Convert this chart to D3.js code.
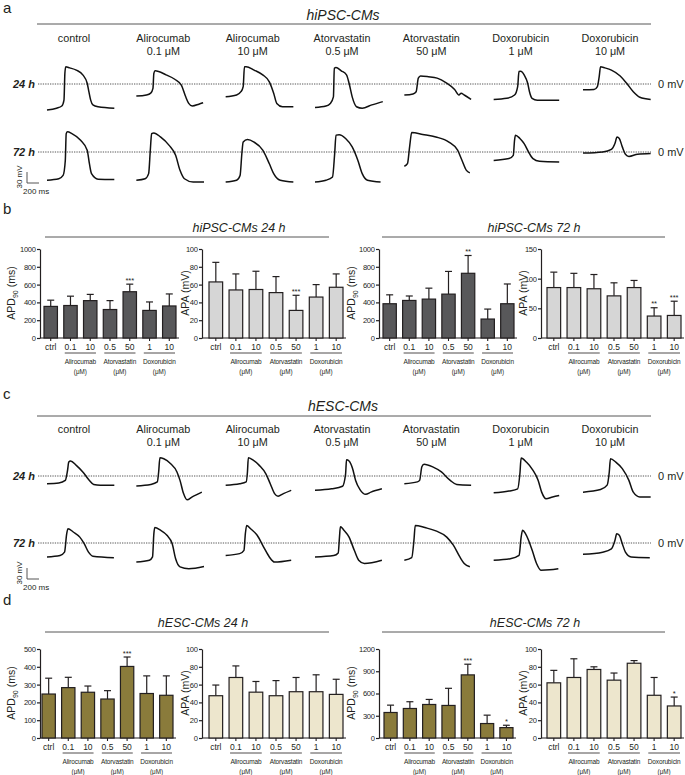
<!DOCTYPE html>
<html><head><meta charset="utf-8">
<script src="https://cdn.jsdelivr.net/npm/d3@7/dist/d3.min.js"></script>
<style>body{margin:0;background:#fff}svg{display:block}</style>
</head><body><svg id="c" width="685" height="775"></svg>
<script>
// ---------------- DATA ----------------
const columnHeaders = [["control"],["Alirocumab","0.1 μM"],["Alirocumab","10 μM"],["Atorvastatin","0.5 μM"],["Atorvastatin","50 μM"],["Doxorubicin","1 μM"],["Doxorubicin","10 μM"]];
const categories = ["ctrl","0.1","10","0.5","50","1","10"];
const drugGroups = [{name:"Alirocumab",from:1,to:2},{name:"Atorvastatin",from:3,to:4},{name:"Doxorubicin",from:5,to:6}];

// action-potential traces: [time ms, membrane potential mV]
const ipsc24 = [
 [[0,-71],[160,-66],[247,-60],[283,-44],[298,29],[313,47],[378,44],[488,38],[597,25],[670,2],[698,-21],[728,-44],[765,-57],[852,-62],[1122,-66]],
 [[0,-33],[168,-30],[240,-25],[277,-12],[292,29],[313,36],[495,25],[640,13],[750,-3],[823,-35],[873,-53],[932,-60],[1042,-55],[1113,-51]],
 [[0,-35],[182,-30],[255,-21],[292,-7],[313,47],[342,47],[473,38],[618,25],[728,6],[800,-25],[852,-53],[947,-62],[1128,-62]],
 [[0,-64],[183,-60],[255,-53],[307,-35],[322,43],[350,45],[438,36],[525,25],[568,2],[620,-35],[692,-62],[787,-66],[947,-57],[1130,-48]],
 [[0,-30],[145,-27],[197,-21],[233,16],[270,22],[400,20],[547,16],[692,4],[838,-15],[910,-30],[947,-25],[998,-30],[1113,-42]],
 [[0,-42],[218,-39],[348,-30],[400,-7],[422,34],[450,35],[508,25],[567,2],[597,-21],[640,-39],[728,-44],[1092,-44]],
 [[0,-16],[183,-15],[240,-7],[270,20],[292,47],[365,44],[473,38],[620,22],[728,2],[838,-21],[947,-36],[1128,-42]]
];
const ipsc72 = [
 [[0,-77],[197,-73],[268,-64],[305,-23],[320,50],[342,55],[415,50],[560,32],[670,5],[707,-32],[742,-59],[852,-74],[1122,-75]],
 [[0,-77],[147,-73],[205,-59],[233,5],[255,50],[292,52],[402,41],[547,18],[655,-9],[728,-50],[802,-73],[947,-82],[1128,-82]],
 [[0,-82],[182,-77],[240,-64],[270,-4],[292,27],[363,34],[473,27],[618,5],[728,-32],[800,-59],[910,-77],[1128,-82]],
 [[0,-82],[183,-77],[292,-68],[328,-4],[350,46],[402,47],[510,37],[620,14],[715,-23],[787,-59],[875,-77],[1093,-82]],
 [[0,-39],[52,-32],[88,14],[123,53],[307,48],[525,41],[743,27],[888,5],[962,-23],[1035,-50],[1092,-57]],
 [[0,-23],[255,-18],[327,-9],[348,32],[363,46],[437,37],[508,23],[582,0],[655,-18],[763,-25],[1092,-27]],
 [[0,-3],[328,0],[473,7],[532,23],[568,41],[605,37],[655,14],[707,-6],[765,-12],[910,-6],[1128,-4]]
];
const esc24 = [
 [[0,-21],[197,-19],[305,-12],[342,15],[363,38],[393,41],[488,29],[597,11],[707,-12],[778,-23],[888,-25],[1122,-25]],
 [[0,-27],[240,-23],[350,-16],[372,11],[393,50],[458,47],[568,34],[677,11],[728,-12],[787,-48],[845,-65],[932,-57],[1092,-44]],
 [[0,-25],[233,-21],[342,-16],[363,11],[378,50],[452,44],[560,29],[670,6],[743,-21],[815,-48],[873,-55],[962,-48],[1092,-39]],
 [[0,-39],[277,-35],[458,-28],[510,6],[525,44],[568,41],[627,20],[677,-12],[750,-37],[845,-50],[932,-44],[1115,-35]],
 [[0,-21],[218,-16],[255,-12],[292,25],[328,32],[473,25],[618,11],[765,-12],[873,-23],[1113,-25]],
 [[0,-46],[255,-41],[400,-35],[437,6],[458,49],[545,38],[653,16],[742,-12],[800,-44],[873,-62],[982,-57],[1092,-53]],
 [[0,-44],[292,-37],[402,-25],[438,11],[458,47],[547,38],[655,20],[765,-12],[838,-44],[947,-57],[1128,-57]]
];
const esc72 = [
 [[0,-38],[218,-34],[292,-25],[328,25],[350,39],[438,30],[547,16],[620,-2],[692,-25],[765,-36],[1115,-40]],
 [[0,-52],[218,-47],[270,-38],[292,25],[307,42],[402,35],[510,21],[598,-2],[655,-43],[728,-65],[875,-70],[1128,-64]],
 [[0,-34],[233,-29],[305,-20],[328,25],[350,48],[415,39],[525,21],[633,-11],[728,-38],[815,-52],[1092,-47]],
 [[0,-38],[313,-34],[387,-27],[408,16],[423,44],[482,35],[568,16],[655,-20],[728,-47],[823,-56],[1115,-47]],
 [[0,-47],[123,-40],[160,7],[182,48],[343,42],[525,33],[707,16],[817,-6],[925,-38],[998,-56],[1092,-65]],
 [[0,-47],[277,-43],[423,-34],[458,16],[482,35],[532,25],[583,7],[642,-20],[715,-56],[787,-74],[933,-73],[1078,-70]],
 [[0,-31],[328,-25],[473,-16],[532,7],[562,25],[605,21],[655,-2],[707,-25],[802,-38],[1113,-40]]
];

// bar charts: mean and SD
const ipsc24APD = [355,365,420,320,520,310,360];
const ipsc24APDsd = [70,105,70,100,85,95,135];
const ipsc24APDsig = ["","","","","***","",""];
const ipsc24APA = [63,54,54.5,51,31,46,57];
const ipsc24APAsd = [22,18,20.5,18,17,14,15];
const ipsc24APAsig = ["","","","","***","",""];
const ipsc72APD = [385,422,437,493,727,213,385];
const ipsc72APDsd = [100,50,123,255,200,112,222];
const ipsc72APDsig = ["","","","","**","",""];
const ipsc72APA = [85,85,83,71,85,37,38];
const ipsc72APAsd = [26,24,24,22,12,14,24];
const ipsc72APAsig = ["","","","","","**","***"];
const esc24APD = [247,283,257,219,402,250,240];
const esc24APDsd = [89,58,35,47,53,99,109];
const esc24APDsig = ["","","","","***","",""];
const esc24APA = [47.5,68,51.5,47.5,52,52,49];
const esc24APAsd = [12,13,12,17,16,19,17];
const esc24APAsig = ["","","","","","",""];
const esc72APD = [344,398,452,439,851,195,140];
const esc72APDsd = [99,91,68,231,144,113,32];
const esc72APDsig = ["","","","","***","","*"];
const esc72APA = [62,68,77,65,84,48,36];
const esc72APAsd = [14,21,3,8,3,20,10];
const esc72APAsig = ["","","","","","","*"];

const ticksAPD1000 = [0,200,400,600,800,1000];
const ticksAPA100 = [0,20,40,60,80,100];
const ticksAPA150 = [0,50,100,150];
const ticksAPD500 = [0,100,200,300,400,500];
const ticksAPD1200 = [0,300,600,900,1200];

// ---------------- DRAWING ----------------
const F = "'Liberation Sans', Arial, Helvetica, sans-serif";
const INK = "#231f20";
const svg = d3.select("#c");

function txt(x, y, s, o = {}) {
  return svg.append("text").attr("x", x).attr("y", y).text(s)
    .attr("font-family", F).attr("font-size", o.size || 11)
    .attr("font-style", o.italic ? "italic" : null)
    .attr("font-weight", o.bold ? "bold" : null)
    .attr("text-anchor", o.anchor || "middle")
    .attr("letter-spacing", o.ls || null)
    .attr("fill", o.fill || INK);
}
function hline(x1, x2, y, w = 0.8, col = "#555") {
  svg.append("line").attr("x1", x1).attr("x2", x2).attr("y1", y).attr("y2", y)
    .attr("stroke", col).attr("stroke-width", w);
}

// panel letters
txt(3, 13, "a", {size: 15, anchor: "start"});
txt(3, 214, "b", {size: 15, anchor: "start"});
txt(3, 399, "c", {size: 15, anchor: "start"});
txt(3, 605, "d", {size: 15, anchor: "start"});

// ---- trace panels ----
const colX = d3.scaleLinear().domain([0, 6]).range([47, 583]);
const tX = d3.scaleLinear().domain([0, 200]).range([0, 12]);   // ms -> px
const tY = d3.scaleLinear().domain([0, 30]).range([0, -11]);   // mV -> px

function tracePanel(title, titleY, ruleY, hdrY, rows, barY) {
  txt(343, titleY, title, {size: 14, italic: true});
  hline(37, 651, ruleY, 0.9, "#444");
  columnHeaders.forEach((h, i) => {
    h.forEach((line, k) => txt(colX(i) + 27, hdrY + k * 13, line, {size: 10.8}));
  });
  rows.forEach(r => {
    svg.append("line").attr("x1", 38).attr("x2", 651).attr("y1", r.y).attr("y2", r.y)
      .attr("stroke", "#444").attr("stroke-width", 0.9).attr("stroke-dasharray", "1.3,1.1");
    txt(35, r.y + 4, r.label, {size: 11, italic: true, bold: true, anchor: "end"});
    txt(658, r.y + 4, "0 mV", {size: 11, anchor: "start"});
    r.traces.forEach((tr, i) => {
      const x0 = colX(i);
      const line = d3.line().x(d => x0 + tX(d[0])).y(d => r.y + tY(d[1])).curve(d3.curveMonotoneX);
      svg.append("path").attr("d", line(tr)).attr("fill", "none")
        .attr("stroke", "#111").attr("stroke-width", 1.5).attr("stroke-linejoin", "round");
    });
  });
  // scale bar
  const bx = 27;
  svg.append("path")
    .attr("d", `M${bx},${barY + tY(30)}V${barY}H${bx + tX(200)}`)
    .attr("fill", "none").attr("stroke", "#555").attr("stroke-width", 1);
  svg.append("text").attr("transform", `translate(${bx - 5},${barY - 6}) rotate(-90)`)
    .attr("font-family", F).attr("font-size", 8).attr("text-anchor", "middle").attr("fill", INK).text("30 mV");
  txt(23, barY + 11, "200 ms", {size: 8, anchor: "start"});
}

tracePanel("hiPSC-CMs", 20, 24, 42,
  [{y: 84, label: "24 h", traces: ipsc24}, {y: 152, label: "72 h", traces: ipsc72}], 183);
tracePanel("hESC-CMs", 411, 416, 433,
  [{y: 476, label: "24 h", traces: esc24}, {y: 543, label: "72 h", traces: esc72}], 579);

// ---- bar charts ----
function barChart(c) {
  const y = d3.scaleLinear().domain([0, c.max]).range([c.y0, c.y0 - 89]);
  const x = d3.scaleBand().domain(d3.range(categories.length)).range([c.x0, c.x1]).paddingInner(0.32).paddingOuter(0);
  const g = svg.append("g");
  const ax = g.append("g").attr("transform", `translate(${c.axisX},0)`)
    .call(d3.axisLeft(y).tickValues(c.ticks).tickFormat(d3.format("d")).tickSize(3).tickSizeOuter(0).tickPadding(1.2));
  ax.select(".domain").attr("stroke", INK).attr("stroke-width", 1.2);
  ax.selectAll(".tick line").attr("stroke", INK).attr("stroke-width", 1.2);
  ax.selectAll(".tick text").attr("font-family", F).attr("font-size", 7.6).attr("letter-spacing", -0.25).attr("fill", INK);
  // x axis
  g.append("line").attr("x1", c.axisX).attr("x2", c.x1 + 3).attr("y1", c.y0).attr("y2", c.y0)
    .attr("stroke", INK).attr("stroke-width", 1.2);
  categories.forEach((cat, i) => {
    const cx = x(i) + x.bandwidth() / 2;
    g.append("line").attr("x1", cx).attr("x2", cx).attr("y1", c.y0).attr("y2", c.y0 + 3)
      .attr("stroke", INK).attr("stroke-width", 1.1);
    txt(cx, c.y0 + 11.5, cat, {size: 8.5});
  });
  drugGroups.forEach(gr => {
    const a = x(gr.from) + 1, b = x(gr.to) + x.bandwidth() - 1;
    hline(a, b, c.y0 + 15, 0.8, INK);
    txt((a + b) / 2, c.y0 + 26, gr.name, {size: 6.5, ls: -0.15});
    txt((a + b) / 2, c.y0 + 35.5, "(μM)", {size: 6.3});
  });
  // bars
  c.means.forEach((m, i) => {
    const bx = x(i), bw = x.bandwidth(), cx = bx + bw / 2;
    const top = y(m + c.sds[i]);
    g.append("line").attr("x1", cx).attr("x2", cx).attr("y1", y(m)).attr("y2", top)
      .attr("stroke", INK).attr("stroke-width", 1.2);
    g.append("line").attr("x1", cx - 3.5).attr("x2", cx + 3.5).attr("y1", top).attr("y2", top)
      .attr("stroke", INK).attr("stroke-width", 1.2);
    g.append("rect").attr("x", bx).attr("y", y(m)).attr("width", bw).attr("height", c.y0 - y(m))
      .attr("fill", c.fill).attr("stroke", INK).attr("stroke-width", 1.2);
    if (c.sig[i]) txt(cx, top - 1.5, c.sig[i], {size: 7.5});
  });
  // y title
  const t = svg.append("text").attr("transform", `translate(${c.titleX},${c.y0 - 45}) rotate(-90)`)
    .attr("font-family", F).attr("font-size", 10.5).attr("text-anchor", "middle").attr("fill", INK);
  if (c.apd) {
    t.append("tspan").text("APD");
    t.append("tspan").attr("font-size", 7).attr("dy", 2.5).text("90");
    t.append("tspan").attr("dy", -2.5).text(" (ms)");
  } else t.text("APA (mV)");
}

// panel b
txt(239, 232, "hiPSC-CMs 24 h", {size: 12.5, italic: true});
hline(45, 329, 237, 0.9, "#444");
txt(534, 232, "hiPSC-CMs 72 h", {size: 12.5, italic: true});
hline(382, 665, 237, 0.9, "#444");
barChart({axisX: 40, x0: 44, x1: 176, y0: 338, max: 1000, ticks: ticksAPD1000, means: ipsc24APD, sds: ipsc24APDsd, sig: ipsc24APDsig, fill: "#58585a", titleX: 15, apd: true});
barChart({axisX: 202, x0: 209, x1: 343, y0: 338, max: 100, ticks: ticksAPA100, means: ipsc24APA, sds: ipsc24APAsd, sig: ipsc24APAsig, fill: "#d6d6d6", titleX: 189});
barChart({axisX: 379, x0: 383, x1: 514, y0: 338, max: 1000, ticks: ticksAPD1000, means: ipsc72APD, sds: ipsc72APDsd, sig: ipsc72APDsig, fill: "#58585a", titleX: 355, apd: true});
barChart({axisX: 541, x0: 547, x1: 681, y0: 338, max: 150, ticks: ticksAPA150, means: ipsc72APA, sds: ipsc72APAsd, sig: ipsc72APAsig, fill: "#d6d6d6", titleX: 527});

// panel d
txt(203, 627, "hESC-CMs 24 h", {size: 12.5, italic: true});
hline(45, 329, 632, 0.9, "#444");
txt(535, 627, "hESC-CMs 72 h", {size: 12.5, italic: true});
hline(382, 665, 632, 0.9, "#444");
barChart({axisX: 40, x0: 42, x1: 173, y0: 738, max: 500, ticks: ticksAPD500, means: esc24APD, sds: esc24APDsd, sig: esc24APDsig, fill: "#8a7b3b", titleX: 15, apd: true});
barChart({axisX: 202, x0: 209, x1: 343, y0: 738, max: 100, ticks: ticksAPA100, means: esc24APA, sds: esc24APAsd, sig: esc24APAsig, fill: "#ede6cd", titleX: 189});
barChart({axisX: 379, x0: 384, x1: 513, y0: 738, max: 1200, ticks: ticksAPD1200, means: esc72APD, sds: esc72APDsd, sig: esc72APDsig, fill: "#8a7b3b", titleX: 355, apd: true});
barChart({axisX: 541, x0: 547, x1: 681, y0: 738, max: 100, ticks: ticksAPA100, means: esc72APA, sds: esc72APAsd, sig: esc72APAsig, fill: "#ede6cd", titleX: 527});
</script></body></html>
